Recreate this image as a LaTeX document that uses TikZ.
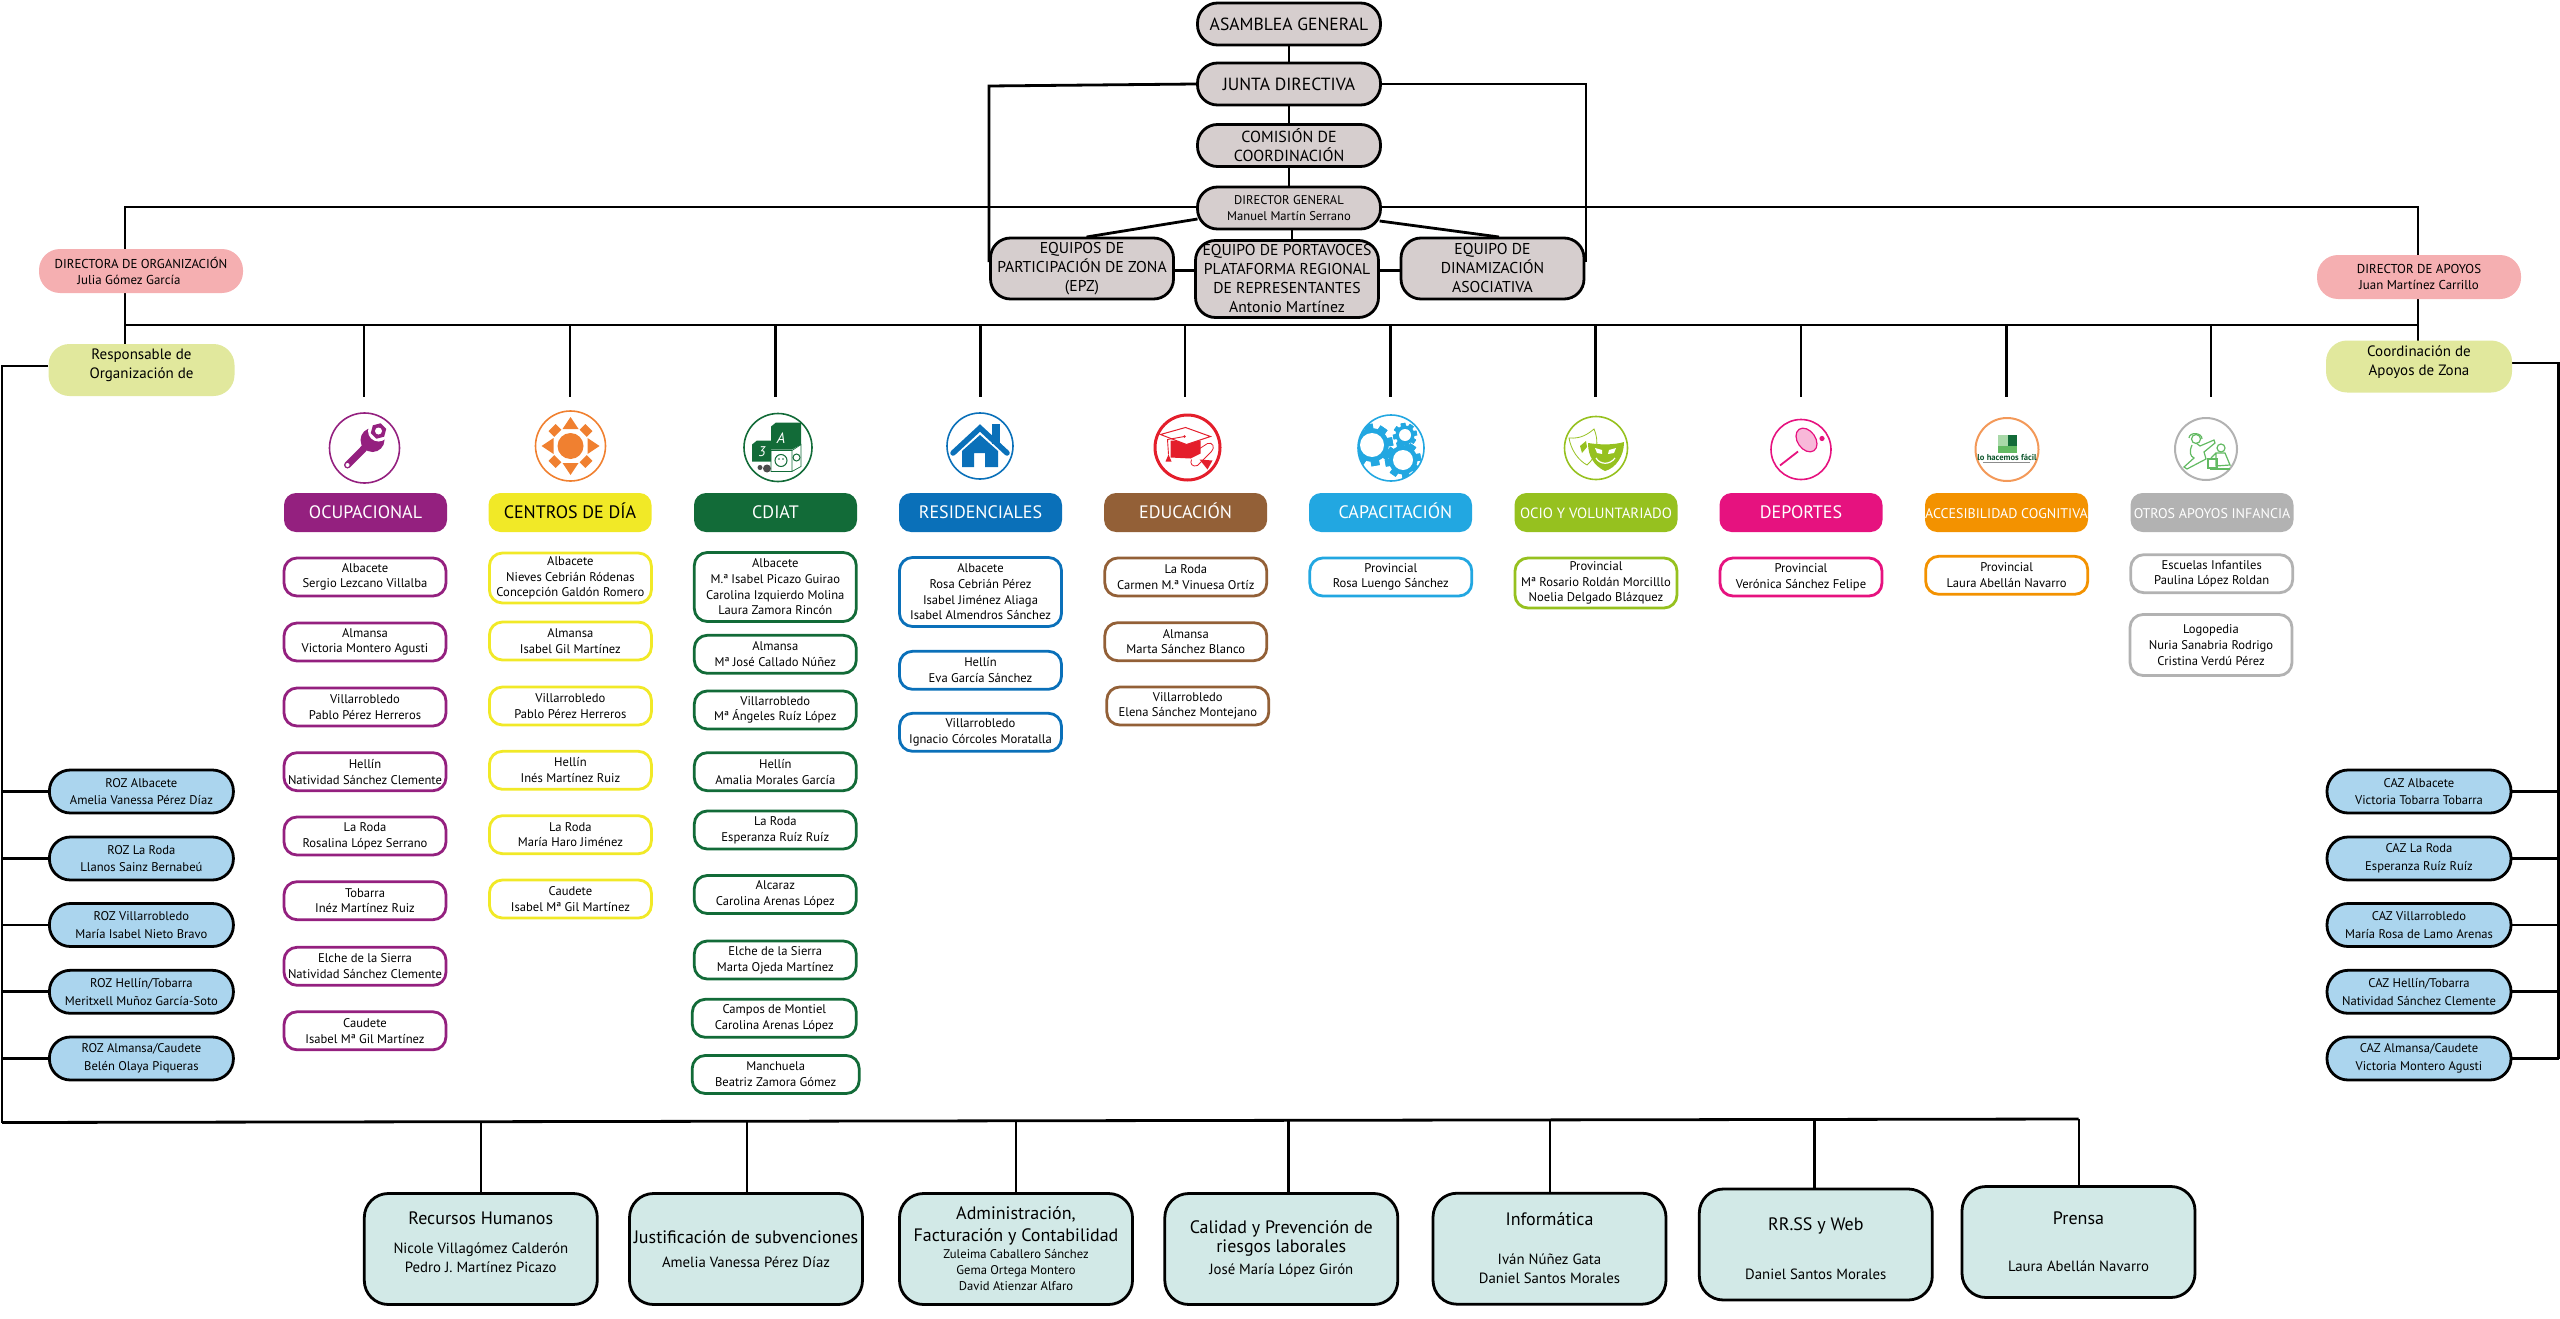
\documentclass[tikz,border=0pt]{standalone}
\usepackage{fontspec}
\setmainfont{PT Sans}
\usetikzlibrary{backgrounds}
\definecolor{topgrey}{HTML}{D6CECE}
\definecolor{dirpink}{HTML}{F5AFB1}
\definecolor{resplime}{HTML}{E1E89D}
\definecolor{rozblue}{HTML}{ABD5EE}
\definecolor{areateal}{HTML}{D2E9E7}
\definecolor{ocupcol}{HTML}{94207F}
\definecolor{centcol}{HTML}{F1E927}
\definecolor{suncol}{HTML}{F08030}
\definecolor{cdiatcol}{HTML}{126B38}
\definecolor{residcol}{HTML}{0A70B9}
\definecolor{educol}{HTML}{936037}
\definecolor{hatcol}{HTML}{E41E2B}
\definecolor{capcol}{HTML}{22A7E1}
\definecolor{ociocol}{HTML}{96C11F}
\definecolor{depcol}{HTML}{E6127F}
\definecolor{acccol}{HTML}{F39200}
\definecolor{otroscol}{HTML}{B2B2B2}
\definecolor{kidcol}{HTML}{62BA62}
\tikzset{
  linkline/.style={black,line width=2.8pt},
  topbox/.style={draw=black,fill=topgrey,line width=2.8pt,rounded corners=20pt,inner sep=0pt,
    align=center,minimum width=183pt,minimum height=42pt,font=\fontsize{15.7}{19}\selectfont},
  softbox/.style={fill=#1,rounded corners=21pt,inner sep=0pt,align=center,minimum width=204pt,
    minimum height=44pt,font=\fontsize{12.9}{16.5}\selectfont},
  respbox/.style={fill=resplime,rounded corners=21pt,inner sep=0pt,align=center,minimum width=186pt,
    minimum height=52pt,font=\fontsize{15}{19}\selectfont},
  zonebox/.style={draw=black,fill=rozblue,line width=2.8pt,rounded corners=21pt,inner sep=0pt,align=center,
    minimum width=184pt,minimum height=43pt,font=\fontsize{12.6}{17.6}\selectfont},
  headbox/.style={fill=#1,text=white,rounded corners=12pt,inner sep=0pt,align=center,text height=12pt,text depth=0pt,
    minimum width=163pt,minimum height=39pt,font=\fontsize{18}{20}\selectfont},
  namebox/.style={draw=#1,fill=white,line width=2.8pt,rounded corners=13pt,inner sep=0pt,align=center,
    minimum width=162pt,minimum height=38pt,font=\fontsize{12.6}{15.7}\selectfont},
  iconring/.style={draw=#1,circle,line width=1.6pt,inner sep=0pt},
  areabox/.style={draw=black,fill=areateal,line width=2.8pt,rounded corners=24pt,inner sep=0pt,align=center,
    minimum width=233pt,minimum height=111pt,font=\fontsize{14.8}{19}\selectfont}
}
\newcommand{\bigt}[1]{{\fontsize{18}{22}\selectfont #1}}
\newcommand{\gearat}[4]{% x, y, outer radius, inner radius
  \foreach \a in {0,45,...,315}
    \fill[capcol,rotate around={\a+10:(#1,#2)}] (#1-#3*0.2,#2-#3) rectangle (#1+#3*0.2,#2+#3);
  \fill[capcol] (#1,#2) circle ({#3*0.8*1pt});
  \fill[white] (#1,#2) circle ({#4*1pt});}
\begin{document}
\begin{tikzpicture}[x=1pt,y=-1pt]
\useasboundingbox (0,0) rectangle (2560,1319);

%top of the chart
\node[topbox,font=\fontsize{17.6}{19}\selectfont] (asamblea) at (1289,24) {ASAMBLEA GENERAL};
\node[topbox,font=\fontsize{17.6}{19}\selectfont] (junta) at (1289,84) {JUNTA DIRECTIVA};
\node[topbox,font=\fontsize{16}{19}\selectfont] (comision) at (1289,145.5) {COMISIÓN DE\\COORDINACIÓN};
\node[topbox,font=\fontsize{12.6}{16.5}\selectfont] (dirgen) at (1289,208) {DIRECTOR GENERAL\\Manuel Martín Serrano};
\node[topbox,minimum height=61pt] (epz) at (1082,268.5) {EQUIPOS DE\\PARTICIPACIÓN DE ZONA\\(EPZ)};
\node[topbox,minimum height=77pt] (portav) at (1287,279) {EQUIPO DE PORTAVOCES\\PLATAFORMA REGIONAL\\DE REPRESENTANTES\\Antonio Martínez};
\node[topbox,minimum height=61pt] (dinam) at (1492.5,268.5) {EQUIPO DE\\DINAMIZACIÓN\\ASOCIATIVA};

%directors
\node[softbox=dirpink] (dirorg) at (141,271) {DIRECTORA DE ORGANIZACIÓN\\Julia Gómez García\hspace*{24pt}};
\node[softbox=dirpink] (dirapo) at (2419,277) {DIRECTOR DE APOYOS\\Juan Martínez Carrillo};
\node[respbox] (resporg) at (141.5,370) {Responsable de\\Organización de\\[-7pt]\mbox{}};
\node[respbox] (coorapo) at (2419,366.5) {Coordinación de\\Apoyos de Zona\\[-7pt]\mbox{}};

%zones
\foreach \n/\y/\t/\s in {1/791.5/ROZ Albacete/Amelia Vanessa Pérez Díaz,
    2/858.5/ROZ La Roda/Llanos Sainz Bernabeú,
    3/925/ROZ Villarrobledo/María Isabel Nieto Bravo,
    4/991.8/ROZ Hellín\slash Tobarra/Meritxell Muñoz García-Soto,
    5/1058.5/ROZ Almansa\slash Caudete/Belén Olaya Piqueras}
  \node[zonebox] (roz\n) at (141.4,\y) {\t\\\s};
\foreach \n/\y/\t/\s in {1/791.5/CAZ Albacete/Victoria Tobarra Tobarra,
    2/858.5/CAZ La Roda/Esperanza Ruíz Ruíz,
    3/925/CAZ Villarrobledo/María Rosa de Lamo Arenas,
    4/991.8/CAZ Hellín\slash Tobarra/Natividad Sánchez Clemente,
    5/1058.5/CAZ Almansa\slash Caudete/Victoria Montero Agusti}
  \node[zonebox] (caz\n) at (2419,\y) {\t\\\s};

%headers
\node[headbox=ocupcol] (ocup) at (365.5,512.5) {OCUPACIONAL};
\node[headbox=centcol,text=black] (centros) at (570,512.5) {CENTROS DE DÍA};
\node[headbox=cdiatcol] (cdiat) at (775.5,512.5) {CDIAT};
\node[headbox=residcol] (resid) at (980.5,512.5) {RESIDENCIALES};
\node[headbox=educol] (educ) at (1185.6,512.5) {EDUCACIÓN};
\node[headbox=capcol] (capac) at (1390.5,512.5) {\hspace*{10pt}CAPACITACIÓN};
\node[headbox=ociocol,font=\fontsize{14.8}{16}\selectfont] (ocio) at (1596,512.5) {OCIO Y VOLUNTARIADO};
\node[headbox=depcol] (deport) at (1801,512.5) {DEPORTES};
\node[headbox=acccol,font=\fontsize{14}{16}\selectfont] (acces) at (2006.5,512.5) {ACCESIBILIDAD COGNITIVA};
\node[headbox=otroscol,font=\fontsize{14}{16}\selectfont] (otros) at (2212,512.5) {OTROS APOYOS INFANCIA};

%people of each area
\foreach \n/\y/\t/\s in {a/577/Albacete/Sergio Lezcano Villalba,
    b/642/Almansa/Victoria Montero Agusti,
    c/707/Villarrobledo/Pablo Pérez Herreros,
    d/771.7/Hellín/Natividad Sánchez Clemente,
    e/836/La Roda/Rosalina López Serrano,
    f/900.7/Tobarra/Inéz Martínez Ruiz,
    g/966.3/Elche de la Sierra/Natividad Sánchez Clemente,
    h/1030.8/Caudete/Isabel Mª Gil Martínez}
  \node[namebox=ocupcol] (ocup\n) at (365,\y) {\t\\\s};
\node[namebox=centcol,minimum height=50pt] (centa) at (570.4,578) {Albacete\\Nieves Cebrián Ródenas\\Concepción Galdón Romero};
\foreach \n/\y/\t/\s in {b/641/Almansa/Isabel Gil Martínez,
    c/706/Villarrobledo/Pablo Pérez Herreros,
    d/770.3/Hellín/Inés Martínez Ruiz,
    e/834.7/La Roda/María Haro Jiménez,
    f/899/Caudete/Isabel Mª Gil Martínez}
  \node[namebox=centcol] (cent\n) at (570.4,\y) {\t\\\s};
\node[namebox=cdiatcol,minimum height=69pt] (cdiata) at (775.3,587) {Albacete\\M.ª Isabel Picazo Guirao\\Carolina Izquierdo Molina\\Laura Zamora Rincón};
\foreach \n/\y/\t/\s in {b/654.3/Almansa/Mª José Callado Núñez,
    c/710/Villarrobledo/Mª Ángeles Ruíz López,
    d/771.7/Hellín/Amalia Morales García,
    e/830/La Roda/Esperanza Ruíz Ruíz,
    f/894.5/Alcaraz/Carolina Arenas López,
    g/960/Elche de la Sierra/Marta Ojeda Martínez}
  \node[namebox=cdiatcol] (cdiat\n) at (775.3,\y) {\t\\\s};
\node[namebox=cdiatcol,minimum width=164pt] (cdiath) at (774.3,1018.3) {Campos de Montiel\\Carolina Arenas López};
\node[namebox=cdiatcol,minimum width=167pt] (cdiati) at (775.7,1074.5) {Manchuela\\Beatriz Zamora Gómez};
\node[namebox=residcol,minimum height=69pt] (resida) at (980.5,592) {Albacete\\Rosa Cebrián Pérez\\Isabel Jiménez Aliaga\\Isabel Almendros Sánchez};
\node[namebox=residcol] (residb) at (980.5,670.3) {Hellín\\Eva García Sánchez};
\node[namebox=residcol] (residc) at (980.5,732.3) {Villarrobledo\\Ignacio Córcoles Moratalla};
\node[namebox=educol] (educa) at (1185.8,577) {La Roda\\Carmen M.ª Vinuesa Ortíz};
\node[namebox=educol] (educb) at (1185.8,641.7) {Almansa\\Marta Sánchez Blanco};
\node[namebox=educol] (educc) at (1187.8,706) {Villarrobledo\\Elena Sánchez Montejano};
\node[namebox=capcol] (capaca) at (1390.8,577) {Provincial\\Rosa Luengo Sánchez};
\node[namebox=ociocol,minimum height=50pt] (ocioa) at (1596,583) {Provincial\\Mª Rosario Roldán Morcilllo\\Noelia Delgado Blázquez};
\node[namebox=depcol] (deporta) at (1801,577) {Provincial\\Verónica Sánchez Felipe};
\node[namebox=acccol] (accesa) at (2006.7,575.3) {Provincial\\Laura Abellán Navarro};
\node[namebox=otroscol] (otrosa) at (2211.7,573.7) {Escuelas Infantiles\\Paulina López Roldan};
\node[namebox=otroscol,minimum height=61pt] (otrosb) at (2211,645) {Logopedia\\Nuria Sanabria Rodrigo\\Cristina Verdú Pérez};

%bottom areas
\node[areabox] (rrhh) at (480.8,1249) {\bigt{Recursos Humanos}\\[10pt]Nicole Villagómez Calderón\\Pedro J. Martínez Picazo\\[-6pt]\mbox{}};
\node[areabox] (justif) at (746,1249) {\bigt{Justificación de subvenciones}\\[5pt]Amelia Vanessa Pérez Díaz};
\node[areabox,font=\fontsize{12.6}{16}\selectfont] (admin) at (1016,1249) {\bigt{Administración,}\\[6pt]\bigt{Facturación y Contabilidad}\\[1pt]Zuleima Caballero Sánchez\\Gema Ortega Montero\\David Atienzar Alfaro};
\node[areabox] (calidad) at (1281.3,1249) {\bigt{Calidad y Prevención de}\\\bigt{riesgos laborales}\\[3pt]José María López Girón};
\node[areabox] (inform) at (1549.5,1248.7) {\mbox{}\\[-8pt]\bigt{Informática}\\[20pt]Iván Núñez Gata\\Daniel Santos Morales};
\node[areabox] (redes) at (1815.8,1244.5) {\mbox{}\\[2pt]\bigt{RR.SS y Web}\\[30pt]Daniel Santos Morales};
\node[areabox] (prensa) at (2078.5,1242) {\bigt{Prensa}\\[28pt]Laura Abellán Navarro};

%icon rings
\node[iconring=ocupcol,minimum size=70pt] (ocupicon) at (364.5,448) {};
\node[iconring=suncol,minimum size=70pt] (centicon) at (570.5,446) {};
\node[iconring=cdiatcol,minimum size=68pt] (cdiaticon) at (778,447.5) {};
\node[iconring=residcol,minimum size=66pt] (residicon) at (980,446) {};
\node[iconring=hatcol,minimum size=65pt,line width=3pt] (educicon) at (1187.5,447.5) {};
\node[iconring=capcol,minimum size=66pt] (capicon) at (1391,448) {};
\node[iconring=ociocol,minimum size=63pt] (ocioicon) at (1596,448) {};
\node[iconring=depcol,minimum size=60pt] (depicon) at (1801,449.5) {};
\node[iconring=suncol!80,minimum size=63pt,line width=2pt] (accicon) at (2007,449.5) {};
\node[iconring=otroscol,minimum size=62pt,line width=2pt] (otricon) at (2206,449) {};

%wrench
\begin{scope}[shift={(364.5,448)}]
  \draw[ocupcol,line width=7pt,line cap=round] (-17,17) -- (-2,2) .. controls (1,-1) and (2,-4) .. (3,-8);
  \fill[ocupcol] (8,-8) circle (12pt);
  \fill[white] (14,-17) circle (10.5pt);
  \fill[ocupcol,shift={(14,-17)},rotate=15] (0:8) -- (60:8) -- (120:8) -- (180:8) -- (240:8) -- (300:8) -- cycle;
  \fill[white] (14,-17) circle (3.5pt);
  \fill[white] (-17,17) circle (2pt);
\end{scope}
%sun
\begin{scope}[shift={(570.5,446)}]
  \fill[suncol] (0,0) circle (13pt);
  \foreach \a in {0,90,180,270}
    \fill[suncol,rotate=\a] (17,-8) -- (29,0) -- (17,8) -- cycle;
  \foreach \a in {45,135,225,315}
    \fill[suncol,rotate=\a] (18,-5) -- (26,-5) -- (26,5) -- (18,5) -- cycle;
\end{scope}
%blocks
\begin{scope}[shift={(778,447.5)}]
  \fill[cdiatcol] (-7,-21) -- (-2,-25) -- (23,-25) -- (23,-3) -- (14,2) -- (-7,2) -- cycle;
  \node[text=white,inner sep=0pt,font=\fontsize{15}{15}\selectfont\itshape] (blocka) at (3,-9) {A};
  \fill[cdiatcol] (-26,-3) -- (-21,-7) -- (-7,-7) -- (-7,14) -- (-26,14) -- cycle;
  \node[text=white,inner sep=0pt,font=\fontsize{14}{14}\selectfont\itshape] (blockb) at (-16,4) {3};
  \draw[cdiatcol,line width=.7pt] (-7,3) rectangle (14,24) (14,3) -- (23,-3) -- (23,19) -- (14,24);
  \draw[cdiatcol,line width=1pt] (3,13) circle (6pt);
  \fill[cdiatcol] (1,11.5) circle (.8pt) (5,11.5) circle (.8pt);
  \draw[cdiatcol,line width=1pt] (18.5,10) circle (3.5pt);
  \fill[black!70] (-11,21) circle (4pt) (-18,20) circle (2.5pt);
\end{scope}
%house
\begin{scope}[shift={(980,446)}]
  \fill[residcol] (12,-22) rectangle (20,-2);
  \draw[residcol,line width=5.5pt,line cap=round,line join=miter] (-27,7) -- (0,-18) -- (27,7);
  \fill[residcol] (-18,5) -- (0,-11) -- (18,5) -- (18,21) -- (5,21) -- (5,7) -- (-6,7) -- (-6,21) -- (-18,21) -- cycle;
\end{scope}
%graduation cap
\begin{scope}[shift={(1187.5,447.5)}]
  \draw[hatcol,line width=.8pt] (6,5) -- (20,-4) .. controls (25,-6) and (28,0) .. (24,4) -- (10,18) .. controls (5,20) and (2,16) .. (4,12);
  \fill[hatcol] (-17,-7) -- (13,-7) -- (13,6) -- (3,11) -- (-17,10) -- cycle;
  \fill[hatcol] (12,12) -- (25,13) -- (20,22) -- cycle;
  \filldraw[fill=white,draw=hatcol,line width=1pt] (-27,-13) -- (-2,-20) -- (23,-11) -- (-1,-3) -- cycle;
  \fill[hatcol] (-3,-11) circle (1.4pt);
  \draw[hatcol,line width=.9pt] (-3,-11) -- (-20,-8) -- (-19,7);
  \fill[hatcol] (-19,7) -- (-16,14) -- (-22,14) -- cycle;
\end{scope}
%gears
\begin{scope}
  \clip (1391,448) circle (33pt);
  \gearat{1372}{445}{21}{12}
  \gearat{1405}{435}{12}{6}
  \gearat{1403}{460}{18}{10}
\end{scope}
%masks
\begin{scope}[shift={(1596,448)}]
  \draw[ociocol,line width=.8pt,fill=white] (-27,-10) .. controls (-15,-9) and (-8,-14) .. (-2,-19) .. controls (3,-8) and (2,8) .. (-9,17) .. controls (-18,12) and (-25,2) .. (-27,-10) -- cycle;
  \fill[ociocol] (-16,-2) -- (-10,-7) -- (-9,-1) -- (-14,5) -- cycle;
  \fill[ociocol] (-8,-5) .. controls (5,-3) and (18,-3) .. (28,-6) .. controls (28,8) and (20,20) .. (9,23) .. controls (-2,18) and (-8,8) .. (-8,-5) -- cycle;
  \fill[white] (-1,0) -- (6,2) -- (6,6) -- (1,5) -- cycle (20,0) -- (13,2) -- (12,6) -- (18,5) -- cycle;
  \draw[white,line width=1.2pt] (0,10) .. controls (4,17) and (14,17) .. (19,10);
\end{scope}
%racket
\begin{scope}[shift={(1801,449.5)}]
  \draw[depcol,line width=1.2pt,fill=depcol!30] (5.5,-9.5) ellipse [x radius=9pt,y radius=13pt,rotate=35];
  \draw[depcol,line width=1.8pt] (-3,2) -- (-21,16);
  \fill[depcol] (21,-11) circle (2.6pt);
\end{scope}
%easy reading
\begin{scope}[shift={(2007,449.5)}]
  \fill[kidcol!55] (-9,-15) rectangle (1,-3);
  \fill[cdiatcol] (1,-15) rectangle (10,-4);
  \fill[kidcol] (-9,-4) rectangle (10,3);
  \node[text=cdiatcol!80!black,inner sep=0pt,font=\fontsize{8.6}{9}\selectfont\bfseries] (fciltext) at (0,8) {lo hacemos fácil};
  \draw[black!45,line width=.7pt] (-24,13) -- (23,13);
\end{scope}
%child care
\begin{scope}[shift={(2206,449)},kidcol,line width=1.2pt]
  \draw (-10,-10) circle (4.5pt);
  \draw (-17,-11) .. controls (-17,-17) and (-4,-17) .. (-4,-10);
  \draw (-14,-4) .. controls (-17,3) and (-16,7) .. (-12,9) -- (-22,18) -- (-19,20) -- (0,10) -- (-2,3) -- (9,-6) -- (8,-9) -- (-6,-3) -- (-10,-6);
  \draw (15,-1) circle (4pt);
  \draw (10,4) -- (5,9) (10,4) -- (19,4) -- (24,16) -- (10,17) -- cycle;
  \draw (2,10) rectangle (11,19);
  \draw (4,20) -- (24,20);
\end{scope}

%connectors
\begin{scope}[on background layer]
  \draw[linkline] (asamblea) -- (junta);
  \draw[linkline] (junta) -- (comision);
  \draw[linkline] (comision) -- (dirgen);
  \coordinate (juntaleft) at (989,86);
  \coordinate (juntaright) at (1586,84);
  \coordinate (epzjoin) at (989,262);
  \coordinate (dinjoin) at (1586,262);
  \draw[linkline] (junta.west) -- (juntaleft) -- (epzjoin);
  \draw[linkline] (junta.east) -- (juntaright) -- (dinjoin);
  \coordinate (dgleft) at (1197.5,219);
  \coordinate (dgright) at (1379.6,221);
  \coordinate (epztop) at (1086.5,237);
  \coordinate (dintop) at (1499,237);
  \draw[linkline] (dgleft) -- (epztop);
  \draw[linkline] (dgright) -- (dintop);
  \draw[linkline] (1292,225) -- (portav.north -| 1292,0);
  \draw[linkline] (epz.east |- 0,270.7) -- (portav.west |- 0,270.7);
  \draw[linkline] (portav.east |- 0,270.7) -- (dinam.west |- 0,270.7);
  %directors and bus
  \coordinate (orgtop) at (125,207);
  \coordinate (apotop) at (2418,207);
  \draw[linkline] (dirgen.west |- orgtop) -- (orgtop) -- (125,345);
  \draw[linkline] (dirgen.east |- apotop) -- (apotop) -- (2418,345);
  \coordinate (busleft) at (125,325);
  \coordinate (busright) at (2418,325);
  \draw[linkline] (busleft) -- (busright);
  \foreach \x in {364,570,775.5,980.5,1185,1390.5,1595.5,1801,2006.5,2211}
    \draw[linkline] (\x,325) -- (\x,397);
  %zones
  \coordinate (leftup) at (2,366);
  \coordinate (leftdown) at (2,1122.5);
  \coordinate (rightup) at (2558.5,363);
  \coordinate (rightdown) at (2558.5,1059);
  \draw[linkline] (resporg.west |- leftup) -- (leftup) -- (leftdown);
  \draw[linkline] (coorapo.east |- rightup) -- (rightup) -- (rightdown);
  \foreach \n in {1,...,5} {
    \draw[linkline] (roz\n.west) -- (roz\n.west -| leftup);
    \draw[linkline] (caz\n.east) -- (caz\n.east -| rightup);
  }
  %bottom bus
  \coordinate (busbottom) at (2078.6,1119);
  \draw[linkline] (leftdown) -- (busbottom);
  \foreach \n/\x/\y in {rrhh/480.8/1121.7,justif/746.6/1121.3,admin/1015.8/1120.8,calidad/1288.4/1120.4,inform/1550/1120,redes/1814.5/1119.5,prensa/2078.6/1119}
    \draw[linkline,line width=2.2pt] (\x,\y) -- (\n.north -| \x,0);
\end{scope}
\end{tikzpicture}
\end{document}
